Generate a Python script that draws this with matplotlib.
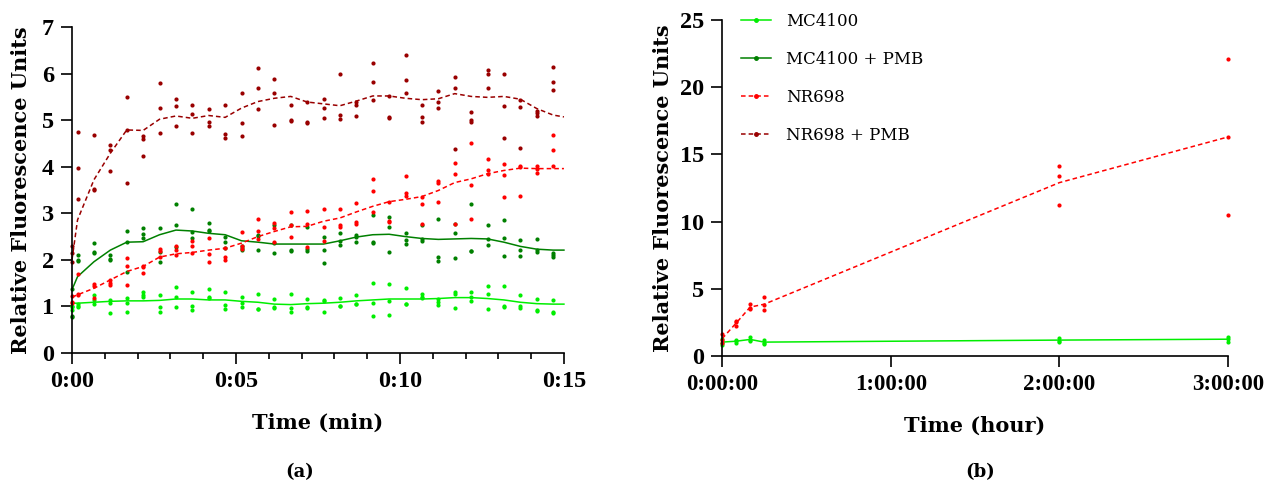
import matplotlib
matplotlib.use('Agg')
import matplotlib.pyplot as plt
from matplotlib.ticker import FuncFormatter, MultipleLocator
from matplotlib.lines import Line2D
import numpy as np

plt.rcParams['font.family'] = ['DejaVu Serif']

# ---- panel (a): 15 min time course, minutes ----
t_a = [0, 0.17, 0.67, 1.17, 1.67, 2.17, 2.67, 3.17, 3.67, 4.17, 4.67, 5.17, 5.67, 6.17, 6.67,
       7.17, 7.67, 8.17, 8.67, 9.17, 9.67, 10.17, 10.67, 11.17, 11.67, 12.17, 12.67, 13.17,
       13.67, 14.17, 14.67]

mc4100 = [[0.99, 0.93, 1.0], [1.06, 1.02, 0.99], [1.24, 1.14, 1.05], [1.13, 1.07, 0.87],
          [1.18, 1.07, 0.88], [1.32, 1.25, 1.2], [1.25, 0.99, 0.88], [1.41, 1.2, 0.99],
          [1.3, 1.01, 0.93], [1.38, 1.21, 1.18], [1.32, 1.04, 0.95], [1.21, 1.07, 0.99],
          [1.27, 0.94, 0.95], [1.16, 0.99, 0.96], [1.27, 0.96, 0.89], [1.17, 0.97, 0.98],
          [1.14, 0.89, 1.12], [1.18, 1.02, 1.0], [1.24, 1.06, 1.05], [1.51, 1.07, 0.79],
          [1.48, 1.12, 0.81], [1.39, 1.06, 1.05], [1.27, 1.21, 1.18], [1.16, 1.09, 1.03],
          [1.3, 1.27, 0.97], [1.32, 1.21, 1.11], [1.44, 1.27, 0.94], [1.43, 0.99, 1.0],
          [1.25, 1.0, 0.96], [1.16, 0.91, 0.92], [1.14, 0.89, 0.86]]

mc4100_pmb = [[1.37, 0.8, 0.77], [2.11, 2.0, 1.98], [2.36, 2.16, 2.15], [2.11, 2.02, 2.0],
              [2.63, 2.39, 1.75], [2.68, 2.56, 2.46], [2.68, 2.16, 1.96], [3.21, 2.74, 2.27],
              [3.1, 2.6, 2.46], [2.8, 2.65, 2.63], [2.5, 2.38, 2.26], [2.3, 2.26, 2.21],
              [2.54, 2.51, 2.22], [2.74, 2.36, 2.14], [2.75, 2.21, 2.19], [2.71, 2.23, 2.19],
              [2.5, 2.21, 1.93], [2.57, 2.41, 2.32], [2.54, 2.5, 2.38], [2.96, 2.38, 2.36],
              [2.93, 2.7, 2.16], [2.57, 2.43, 2.34], [2.75, 2.44, 2.41], [2.88, 2.07, 1.98],
              [2.76, 2.57, 2.03], [3.2, 2.18, 2.2], [2.74, 2.44, 2.31], [2.86, 2.48, 2.08],
              [2.43, 2.21, 2.08], [2.44, 2.21, 2.16], [2.14, 2.1, 2.06]]

nr698 = [[1.22, 1.1, 1.07], [1.69, 1.26, 1.24], [1.48, 1.44, 1.19], [1.56, 1.5, 1.46],
         [2.05, 1.86, 1.46], [1.86, 1.84, 1.71], [2.23, 2.2, 2.07], [2.29, 2.21, 2.11],
         [2.41, 2.29, 2.14], [2.46, 2.12, 1.96], [2.26, 2.07, 2.0], [2.59, 2.29, 2.24],
         [2.87, 2.61, 2.44], [2.79, 2.68, 2.39], [3.03, 2.75, 2.5], [3.05, 2.77, 2.27],
         [3.1, 2.7, 2.4], [3.1, 2.74, 2.71], [3.22, 2.82, 2.78], [3.74, 3.47, 3.03],
         [3.24, 2.84, 2.81], [3.81, 3.43, 3.38], [3.34, 3.21, 2.76], [3.7, 3.66, 3.24],
         [4.09, 3.85, 2.77], [4.5, 3.61, 2.88], [4.16, 3.94, 3.84], [4.06, 3.83, 3.34],
         [4.01, 3.99, 3.38], [4.01, 3.96, 3.86], [4.68, 4.36, 4.01]]

nr698_pmb = [[1.95, 2.15, 2.3], [4.74, 3.98, 3.31], [4.69, 3.5, 3.52], [4.46, 4.36, 3.9],
             [5.49, 4.79, 3.66], [4.66, 4.59, 4.22], [5.8, 5.27, 4.72], [5.46, 5.31, 4.87],
             [5.32, 5.13, 4.72], [5.24, 4.97, 4.87], [5.32, 4.71, 4.62], [5.59, 4.95, 4.66],
             [6.12, 5.7, 5.24], [5.88, 5.58, 4.89], [5.32, 4.99, 5.0], [5.39, 4.97, 4.95],
             [5.45, 5.26, 5.05], [5.99, 5.12, 5.02], [5.39, 5.32, 5.09], [6.22, 5.81, 5.44],
             [5.52, 5.04, 5.06], [6.4, 5.86, 5.59], [5.33, 5.07, 4.96], [5.62, 5.39, 5.26],
             [5.92, 5.69, 4.39], [5.18, 4.96, 5.0], [6.07, 5.99, 5.69], [6.0, 5.31, 4.61],
             [5.43, 5.28, 4.41], [5.19, 5.1, 5.15], [6.15, 5.83, 5.64]]

# smoothed curves as drawn in the original
fit_t = t_a + [15]
mc4100_fit = [1.07, 1.07, 1.09, 1.11, 1.12, 1.12, 1.13, 1.16, 1.16, 1.14, 1.14, 1.11, 1.09, 1.05,
              1.04, 1.06, 1.07, 1.09, 1.12, 1.14, 1.16, 1.16, 1.16, 1.17, 1.19, 1.19, 1.17, 1.14,
              1.09, 1.06, 1.05, 1.05]
mc4100_pmb_fit = [1.36, 1.64, 1.96, 2.21, 2.38, 2.39, 2.54, 2.64, 2.62, 2.57, 2.54, 2.41, 2.38,
                  2.34, 2.34, 2.34, 2.34, 2.41, 2.49, 2.54, 2.55, 2.5, 2.46, 2.44, 2.45, 2.46,
                  2.45, 2.38, 2.29, 2.23, 2.21, 2.21]
nr698_fit = [1.2, 1.25, 1.39, 1.57, 1.75, 1.86, 2.06, 2.13, 2.16, 2.21, 2.25, 2.36, 2.5, 2.61,
             2.71, 2.72, 2.83, 2.9, 3.03, 3.15, 3.25, 3.3, 3.36, 3.49, 3.66, 3.74, 3.85, 3.92,
             3.97, 3.96, 3.96, 3.96]
nr698_pmb_fit = [2.0, 2.86, 3.72, 4.29, 4.79, 4.78, 5.02, 5.09, 5.04, 5.1, 5.06, 5.26, 5.4, 5.47,
                 5.51, 5.39, 5.35, 5.31, 5.41, 5.52, 5.52, 5.47, 5.44, 5.46, 5.57, 5.51, 5.49,
                 5.51, 5.45, 5.25, 5.11, 5.07]

# ---- panel (b): 3 h time course, minutes ----
t_b = [0, 5, 10, 15, 120, 180]
mc4100_b = [[1.3, 1.0, 0.8], [1.2, 1.1, 1.0], [1.4, 1.2, 1.1], [1.2, 1.0, 0.9],
            [1.35, 1.15, 1.05], [1.45, 1.25, 1.05]]
nr698_b = [[1.66, 1.2, 1.0], [2.61, 2.5, 2.23], [3.85, 3.6, 3.47], [4.39, 3.77, 3.4],
           [14.1, 13.4, 11.2], [22.1, 16.3, 10.5]]

labels = ['MC4100', 'MC4100 + PMB', 'NR698', 'NR698 + PMB']
colors = ['#00ee00', '#008000', '#ff0000', '#990000']
styles = ['-', '-', (0, (3, 2)), (0, (3, 2))]

fig = plt.figure(figsize=(12.65, 4.88), dpi=100)
ax1 = fig.add_axes([0.0569, 0.2766, 0.3889, 0.668])
ax2 = fig.add_axes([0.5708, 0.2705, 0.4, 0.6885])

series_a = [mc4100, mc4100_pmb, nr698, nr698_pmb]
fits_a = [mc4100_fit, mc4100_pmb_fit, nr698_fit, nr698_pmb_fit]
for reps, fit, c, ls in zip(series_a, fits_a, colors, styles):
    for i in range(3):
        ax1.plot(t_a, [r[i] for r in reps], 'o', ms=3, color=c, mec='none', clip_on=False)
    ax1.plot(fit_t, fit, color=c, ls=ls, lw=1.1, clip_on=False)

ax1.set_xlim(0, 15)
ax1.set_ylim(0, 7)
ax1.xaxis.set_major_locator(MultipleLocator(5))
ax1.xaxis.set_minor_locator(MultipleLocator(1))
ax1.yaxis.set_major_locator(MultipleLocator(1))
ax1.xaxis.set_major_formatter(FuncFormatter(lambda v, p: '0:%02d' % int(round(v))))
ax1.set_xlabel('Time (min)', fontsize=15, fontweight='bold', labelpad=15)
ax1.set_ylabel('Relative Fluorescence Units', fontsize=15, fontweight='bold', labelpad=8)

series_b = [mc4100_b, nr698_b]
for reps, c, ls in zip(series_b, [colors[0], colors[2]], [styles[0], styles[2]]):
    for i in range(3):
        ax2.plot(t_b, [r[i] for r in reps], 'o', ms=3, color=c, mec='none', clip_on=False)
    ax2.plot(t_b, np.mean(reps, axis=1), color=c, ls=ls, lw=1.1, clip_on=False)

ax2.set_xlim(0, 180)
ax2.set_ylim(0, 25)
ax2.xaxis.set_major_locator(MultipleLocator(60))
ax2.yaxis.set_major_locator(MultipleLocator(5))
ax2.xaxis.set_major_formatter(FuncFormatter(lambda v, p: '%d:00:00' % int(round(v / 60))))
ax2.set_xlabel('Time (hour)', fontsize=15, fontweight='bold', labelpad=15)
ax2.set_ylabel('Relative Fluorescence Units', fontsize=15, fontweight='bold', labelpad=5)

handles = [Line2D([], [], color=c, ls=ls, lw=1.1, marker='o', ms=2.5) for c, ls in zip(colors, styles)]
ax2.legend(handles, labels, loc='upper left', bbox_to_anchor=(0.008, 1.065), frameon=False,
           fontsize=12, handlelength=1.8, handletextpad=0.9, labelspacing=1.25)

for ax in (ax1, ax2):
    ax.spines['top'].set_visible(False)
    ax.spines['right'].set_visible(False)
    ax.spines['left'].set_linewidth(1.2)
    ax.spines['bottom'].set_linewidth(1.2)
    ax.tick_params(axis='both', which='major', labelsize=17.5, length=8, width=1.2, pad=5)
    ax.tick_params(axis='x', which='minor', length=4.5, width=1.2)
    for lab in ax.get_xticklabels() + ax.get_yticklabels():
        lab.set_fontweight('bold')
        lab.set_family('Liberation Serif')
ax2.tick_params(axis='x', labelsize=16.5)

fig.text(0.237, 0.022, '(a)', fontsize=13, fontweight='bold', ha='center')
fig.text(0.775, 0.022, '(b)', fontsize=13, fontweight='bold', ha='center')

fig.savefig('out.png', dpi=100)
